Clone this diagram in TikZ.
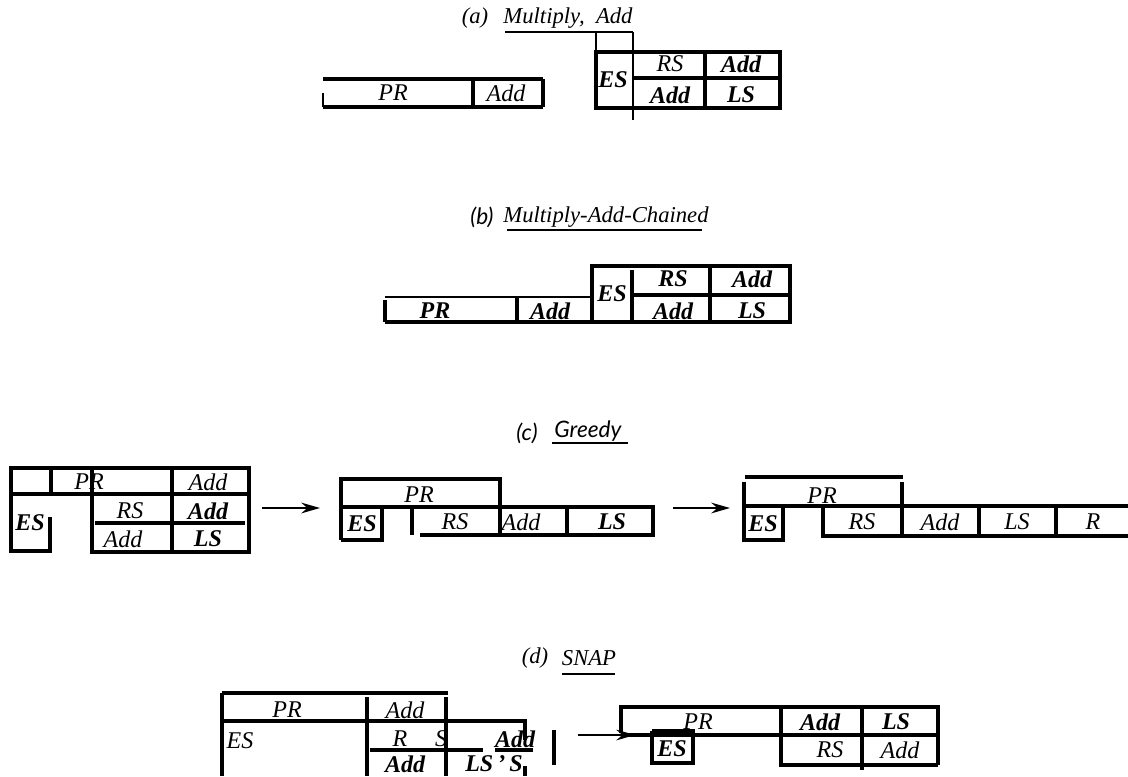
\documentclass[tikz,border=0pt]{standalone}
\usepackage{fontspec}
\setmainfont{Liberation Serif}
\newfontfamily\capsans{Lato}
\usetikzlibrary{arrows.meta}

\begin{document}
\begin{tikzpicture}[x=0.75pt,y=-0.75pt,
  lbl/.style={inner sep=0pt,font=\fontsize{18}{21}\selectfont\itshape},
  blbl/.style={inner sep=0pt,font=\fontsize{18}{21}\selectfont\bfseries\itshape},
  ttl/.style={inner sep=0pt,font=\fontsize{17}{20}\selectfont\itshape},
  sttl/.style={inner sep=0pt,font=\fontsize{17}{20}\selectfont\capsans\itshape},
  grid/.style={line width=2.4pt},
  hair/.style={line width=1.2pt},
  flow/.style={-{Stealth[length=14pt,width=8pt]},line width=1.8pt}
]
  \useasboundingbox (0,0) rectangle (1128,776);

  % (a) Multiply, Add
  \node[ttl] (ta) at (475,18) {(a)};
  \node[ttl] (tam) at (568,18) {Multiply,~ Add};
  \draw[line width=1.4pt] (505,32) -- (633,32);
  \draw[hair] (596,32) -- (596,52);
  \draw[hair] (633,32) -- (633,120);
  \draw[grid] (596,52) -- (780,52) -- (780,108) -- (596,108) -- cycle;
  \draw[grid] (633,78) -- (780,78);
  \draw[grid] (705,52) -- (705,108);
  \draw[grid] (323,79) -- (543,79);
  \draw[grid] (323,107) -- (543,107);
  \draw[grid] (473,79) -- (473,107);
  \draw[grid] (543,79) -- (543,107);
  \draw[hair] (323,93) -- (323,107);
  \node[lbl] (apr) at (393,93) {PR};
  \node[lbl] (aadd) at (506,93) {Add};
  \node[blbl] (aes) at (613,80) {ES};
  \node[lbl] (ars) at (670,64) {RS};
  \node[blbl] (aadd2) at (741,64) {Add};
  \node[blbl] (aadd3) at (670,95) {Add};
  \node[blbl] (als) at (741,95) {LS};

  % (b) Multiply-Add-Chained
  \node[sttl] (tb) at (482,217) {(b)};
  \node[ttl] (tbm) at (606,217) {Multiply-Add-Chained};
  \draw[line width=1.6pt] (507,230) -- (702,230);
  \draw[grid] (385,322) -- (790,322) -- (790,266) -- (592,266) -- (592,322);
  \draw[grid] (632,295) -- (790,295);
  \draw[grid] (632,270) -- (632,322);
  \draw[grid] (710,266) -- (710,322);
  \draw[hair] (385,297) -- (592,297);
  \draw[grid] (517,297) -- (517,322);
  \draw[grid] (385,300) -- (385,322);
  \node[blbl] (bpr) at (435,311) {PR};
  \node[blbl] (badd) at (550,311) {Add};
  \node[blbl] (bes) at (612,294) {ES};
  \node[blbl] (brs) at (673,279) {RS};
  \node[blbl] (badd2) at (752,279) {Add};
  \node[blbl] (badd3) at (673,311) {Add};
  \node[blbl] (bls) at (752,311) {LS};

  % (c) Greedy
  \node[sttl] (tc) at (527,433) {(c)};
  \node[sttl] (tcm) at (588,431) {Greedy};
  \draw[line width=1.6pt] (552,443) -- (628,443);
  % start state
  \draw[grid] (9,468) -- (249,468) -- (249,552) -- (92,552) -- (92,468);
  \draw[grid] (11,468) -- (11,551) -- (50,551) -- (50,517);
  \draw[grid] (51,468) -- (51,494);
  \draw[grid] (13,494) -- (249,494);
  \draw[grid] (172,468) -- (172,552);
  \draw[grid] (95,523) -- (245,523);
  \node[lbl] (cpr) at (89,482) {PR};
  \node[lbl] (cadd) at (208,482) {Add};
  \node[blbl] (ces) at (30,523) {ES};
  \node[lbl] (crs) at (130,511) {RS};
  \node[blbl] (cadd2) at (208,511) {Add};
  \node[lbl] (cadd3) at (123,539) {Add};
  \node[blbl] (cls) at (208,539) {LS};
  % first step
  \draw[grid] (341,540) -- (341,479) -- (500,479) -- (500,537);
  \draw[grid] (341,507) -- (653,507) -- (653,535) -- (420,535);
  \draw[grid] (341,540) -- (382,540) -- (382,507);
  \draw[line width=3pt] (412,509) -- (412,535);
  \draw[line width=3pt] (567,507) -- (567,535);
  \node[lbl] (c1pr) at (419,495) {PR};
  \node[blbl] (c1es) at (362,524) {ES};
  \node[lbl] (c1rs) at (455,522) {RS};
  \node[lbl] (c1add) at (521,522) {Add};
  \node[blbl] (c1ls) at (612,522) {LS};
  % second step
  \draw[line width=3.4pt] (745,477) -- (903,477);
  \draw[grid] (744,482) -- (744,540) -- (783,540) -- (783,506);
  \draw[grid] (902,482) -- (902,535);
  \draw[grid] (744,506) -- (1128,506);
  \draw[grid] (823,506) -- (823,536) -- (1128,536);
  \draw[grid] (979,506) -- (979,536);
  \draw[grid] (1056,506) -- (1056,536);
  \node[lbl] (c2pr) at (822,496) {PR};
  \node[blbl] (c2es) at (763,524) {ES};
  \node[lbl] (c2rs) at (862,522) {RS};
  \node[lbl] (c2add) at (940,522) {Add};
  \node[lbl] (c2ls) at (1017,522) {LS};
  \node[lbl] (c2r) at (1093,522) {R};

  % (d) SNAP
  \node[ttl] (td) at (535,658) {(d)};
  \node[ttl] (tdm) at (589,658) {SNAP};
  \draw[line width=1.6pt] (562,674) -- (615,674);
  % start state
  \draw[grid] (222,693) -- (448,693);
  \draw[grid] (222,693) -- (222,776);
  \draw[grid] (367,697) -- (367,776);
  \draw[grid] (446,697) -- (446,776);
  \draw[grid] (222,721) -- (525,721) -- (525,740);
  \draw[grid] (370,750) -- (483,750);
  \draw[grid] (495,750) -- (533,750);
  \draw[grid] (554,730) -- (554,765);
  \draw[grid] (525,766) -- (525,776);
  \node[lbl] (dpr) at (287,710) {PR};
  \node[lbl] (dadd) at (405,710) {Add};
  \node[lbl] (des) at (240,741) {ES};
  \node[lbl] (dr) at (400,739) {R};
  \node[lbl] (ds) at (441,739) {S};
  \node[blbl] (dadd2) at (515,739) {Add};
  \node[blbl] (dadd3) at (405,764) {Add};
  \node[blbl] (dls) at (494,764) {LS\,'\,S};
  % after snapping
  \draw[grid] (621,733) -- (621,707) -- (938,707) -- (938,765);
  \draw[grid] (621,735) -- (938,735);
  \draw[grid] (781,707) -- (781,765) -- (938,765);
  \draw[grid] (862,707) -- (862,770);
  \draw[grid] (652,731) -- (652,763) -- (693,763) -- (693,731) -- (652,731);
  \node[lbl] (d1pr) at (698,722) {PR};
  \node[blbl] (d1add) at (820,722) {Add};
  \node[blbl] (d1ls) at (896,722) {LS};
  \node[blbl] (d1es) at (672,749) {ES};
  \node[lbl] (d1rs) at (830,750) {RS};
  \node[lbl] (d1add2) at (900,750) {Add};

  % Arrows
  \coordinate (c0e) at (262,508);
  \coordinate (c1w) at (320,508);
  \coordinate (c1e) at (673,508);
  \coordinate (c2w) at (730,508);
  \coordinate (d0e) at (578,735);
  \coordinate (d1w) at (635,735);
  \foreach \a/\b in {c0e/c1w, c1e/c2w, d0e/d1w} {
    \draw[flow] (\a) -- (\b);
  }
\end{tikzpicture}
\end{document}
